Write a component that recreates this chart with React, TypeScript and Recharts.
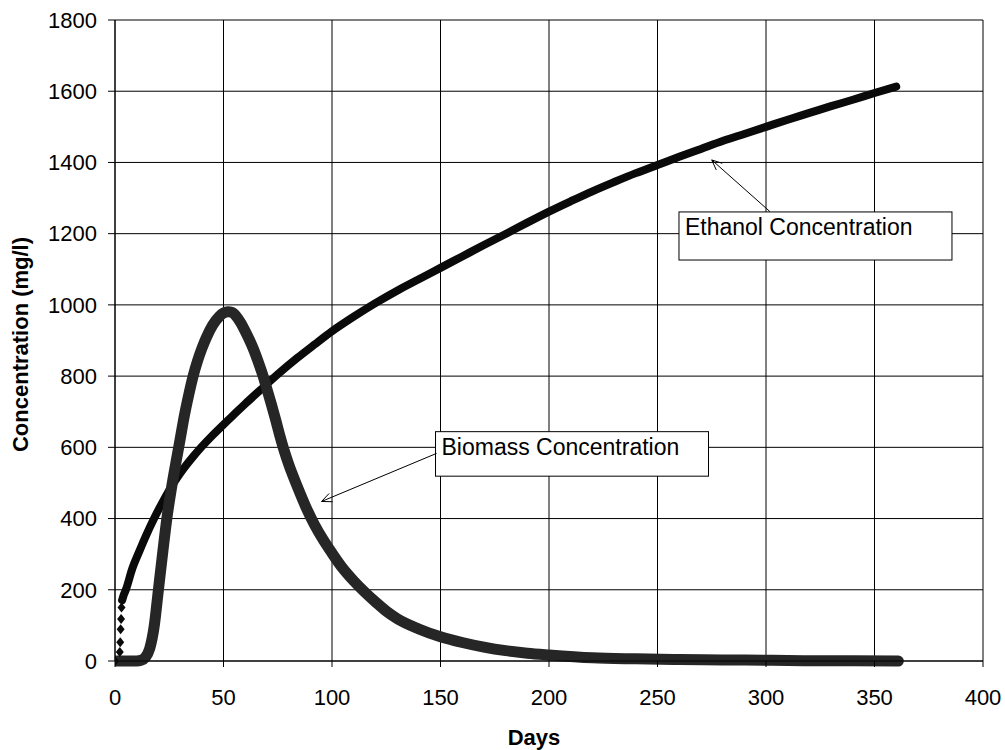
import React from 'react';
import {
  LineChart,
  Line,
  XAxis,
  YAxis,
  CartesianGrid,
  ReferenceArea,
  ReferenceLine,
} from 'recharts';

const FONT = "'Liberation Sans', Arial, sans-serif";

const xTicks = [0, 50, 100, 150, 200, 250, 300, 350, 400];
const yTicks = [0, 200, 400, 600, 800, 1000, 1200, 1400, 1600, 1800];

// [day, mg/l]
const ethanol: [number, number][] = [
  [0, 0], [2.2, 25], [2.4, 53], [2.6, 89], [2.8, 118], [3, 150], [3.3, 171],
  [4, 185], [5, 200], [8, 260], [11, 305], [14, 348], [18, 400], [22, 447],
  [26, 490], [30, 527], [36, 574], [40, 602], [45, 634], [50, 664], [55, 693],
  [60, 722], [67, 761], [75, 805], [84, 851], [92, 889], [100, 926],
  [110, 967], [120, 1005], [130, 1040], [140, 1072], [150, 1104], [160, 1136],
  [170, 1168], [180, 1199], [190, 1231], [200, 1262], [210, 1291],
  [220, 1319], [230, 1345], [240, 1370], [250, 1393], [260, 1416],
  [270, 1438], [280, 1460], [290, 1480], [300, 1500], [310, 1520],
  [320, 1539], [330, 1558], [340, 1576], [350, 1595], [360, 1613],
];

const biomass: [number, number][] = [
  [0, 0], [5, 0], [10, 0], [12, 2], [14, 10], [16, 35], [18, 95], [20, 200],
  [22, 305], [24, 405], [26, 485], [28, 555], [30, 622], [32, 690], [34, 748],
  [36, 800], [38, 842], [40, 877], [42, 907], [45, 943], [48, 967], [50, 977],
  [52, 981], [54, 979], [56, 967], [58, 949], [60, 926], [62, 901], [64, 873],
  [66, 840], [68, 805], [70, 764], [72, 722], [74, 678], [76, 632], [78, 590],
  [80, 553], [84, 490], [88, 432], [92, 382], [96, 340], [100, 303],
  [105, 260], [110, 225], [115, 194], [120, 166], [125, 140], [130, 119],
  [140, 90], [150, 68], [160, 52], [170, 39], [180, 29], [190, 22], [200, 17],
  [220, 9], [240, 6], [260, 4], [280, 3], [300, 2], [320, 1], [340, 1],
  [361, 0],
];

const toRows = (pts: [number, number][]) =>
  pts.map(([day, value]) => ({ day, value }));

const ethanolRows = toRows(ethanol);
const ethanolHead = ethanolRows.slice(0, 7); // sparse diamonds at start
const ethanolBody = ethanolRows.slice(6);
const biomassRows = toRows(biomass);

const Diamond = (props: any) => {
  const { cx, cy, index } = props;
  if (cx == null || cy == null) return <g key={index} />;
  return (
    <path
      key={index}
      d={`M${cx},${cy - 5}L${cx + 4},${cy}L${cx},${cy + 5}L${cx - 4},${cy}Z`}
      fill="#0a0a0a"
    />
  );
};

const Arrow = (props: any) => {
  const { x1, y1, x2, y2 } = props;
  if ([x1, y1, x2, y2].some((v) => v == null || isNaN(v))) return <g />;
  const a = Math.atan2(y2 - y1, x2 - x1);
  const len = 11;
  const spread = 0.42;
  const hx1 = x2 - len * Math.cos(a - spread);
  const hy1 = y2 - len * Math.sin(a - spread);
  const hx2 = x2 - len * Math.cos(a + spread);
  const hy2 = y2 - len * Math.sin(a + spread);
  return (
    <g>
      <line x1={x1} y1={y1} x2={x2} y2={y2} stroke="#000" strokeWidth={1} />
      <path
        d={`M${hx1},${hy1}L${x2},${y2}L${hx2},${hy2}`}
        fill="none"
        stroke="#000"
        strokeWidth={1}
      />
    </g>
  );
};

const boxShape = (text: string) => (props: any) => {
  const { x, y, width, height } = props;
  return (
    <g>
      <rect x={x} y={y} width={width} height={height} fill="#fff" stroke="#000" strokeWidth={1} />
      <text x={x + 6} y={y + 23} fontFamily={FONT} fontSize={23} fill="#000">
        {text}
      </text>
    </g>
  );
};

const tickStyle = { fontFamily: FONT, fontSize: 22, fill: '#000' };

export default function App() {
  return (
    <div style={{ position: 'absolute', left: 0, top: 0, background: '#fff' }}>
      <LineChart
        width={1005}
        height={750}
        margin={{ top: 20, right: 22, left: 55, bottom: 39 }}
      >
        <CartesianGrid stroke="#000" strokeWidth={1} />
        <XAxis
          type="number"
          dataKey="day"
          domain={[0, 400]}
          ticks={xTicks}
          interval={0}
          allowDataOverflow
          height={50}
          tickSize={6}
          tickMargin={22}
          tick={tickStyle}
          axisLine={{ stroke: '#000' }}
          tickLine={{ stroke: '#000' }}
          label={{
            content: (p: any) => {
              const vb = p.viewBox || { x: 115, y: 661, width: 868 };
              return (
                <text
                  x={vb.x + vb.width / 2 - 15}
                  y={vb.y + 84}
                  textAnchor="middle"
                  fontFamily={FONT}
                  fontSize={22}
                  fontWeight="bold"
                  fill="#000"
                >
                  Days
                </text>
              );
            },
          }}
        />
        <YAxis
          type="number"
          domain={[0, 1800]}
          ticks={yTicks}
          interval={0}
          width={60}
          tickSize={7}
          tickMargin={11}
          tick={tickStyle}
          axisLine={{ stroke: '#000' }}
          tickLine={{ stroke: '#000' }}
          label={{
            content: (p: any) => {
              const vb = p.viewBox || { y: 20, height: 641 };
              const cy = vb.y + vb.height / 2 + 4;
              return (
                <text
                  x={20}
                  y={cy}
                  transform={`rotate(-90, 20, ${cy})`}
                  textAnchor="middle"
                  dominantBaseline="central"
                  fontFamily={FONT}
                  fontSize={22}
                  fontWeight="bold"
                  fill="#000"
                >
                  Concentration (mg/l)
                </text>
              );
            },
          }}
        />

        <Line
          data={ethanolBody}
          dataKey="value"
          type="monotone"
          stroke="#0a0a0a"
          strokeWidth={8}
          strokeLinecap="round"
          strokeLinejoin="round"
          dot={false}
          activeDot={false}
          isAnimationActive={false}
        />
        <Line
          data={ethanolHead}
          dataKey="value"
          stroke="none"
          dot={Diamond}
          activeDot={false}
          isAnimationActive={false}
        />
        <Line
          data={biomassRows}
          dataKey="value"
          type="monotone"
          stroke="#262626"
          strokeWidth={11}
          strokeLinecap="round"
          strokeLinejoin="round"
          dot={false}
          activeDot={false}
          isAnimationActive={false}
        />

        <ReferenceArea
          x1={259.9}
          x2={385.7}
          y1={1126}
          y2={1261}
          shape={boxShape('Ethanol Concentration')}
        />
        <ReferenceArea
          x1={147.7}
          x2={273.5}
          y1={519}
          y2={644}
          shape={boxShape('Biomass Concentration')}
        />
        <ReferenceLine
          segment={[{ x: 301.8, y: 1262 }, { x: 275, y: 1407 }]}
          shape={Arrow}
        />
        <ReferenceLine
          segment={[{ x: 148.2, y: 583 }, { x: 95.2, y: 448 }]}
          shape={Arrow}
        />
      </LineChart>
    </div>
  );
}
